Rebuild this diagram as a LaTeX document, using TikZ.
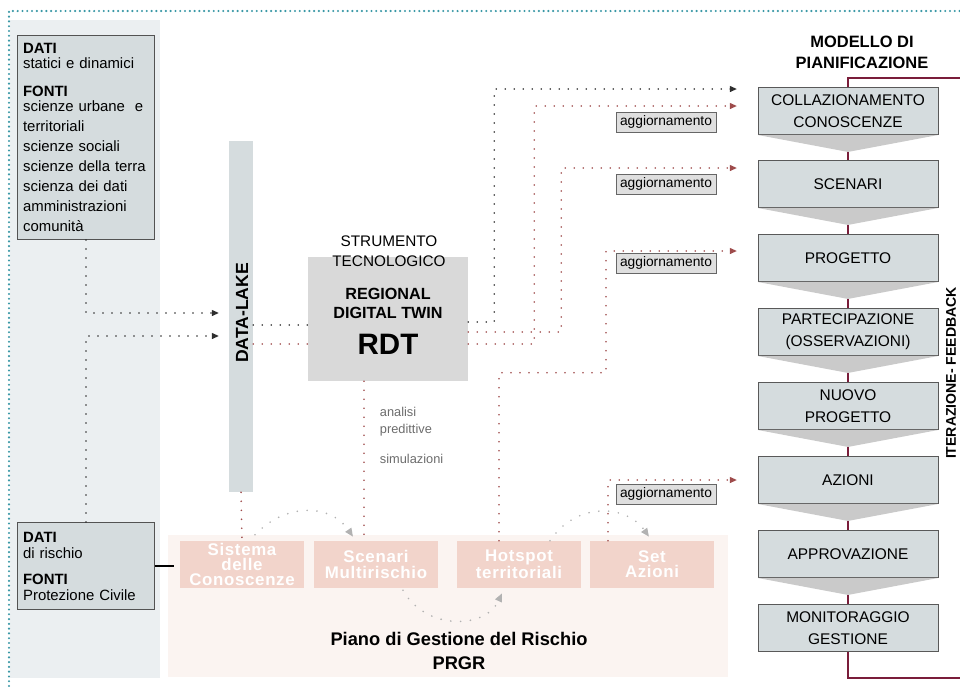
\documentclass[tikz,border=0pt]{standalone}
\usepackage{fontspec}
\setmainfont{Liberation Sans}
\usetikzlibrary{positioning,calc,arrows.meta,backgrounds}
\definecolor{rg-teal}{HTML}{3A98A6}
\definecolor{rg-panel}{HTML}{EBEFF1}
\definecolor{rg-box}{HTML}{D5DCDE}
\definecolor{rg-rdt}{HTML}{D9D9D9}
\definecolor{rg-area}{HTML}{FBF4F1}
\definecolor{rg-pink}{HTML}{F2D4CB}
\definecolor{rg-red}{HTML}{9E4B4B}
\definecolor{rg-maroon}{HTML}{7A1D3A}
\definecolor{rg-chev}{HTML}{CACACA}
\definecolor{rg-dark}{HTML}{2E2E2E}

\begin{document}
\begin{tikzpicture}[
    x=0.025cm, y=-0.025cm,
    infobox/.style={draw=gray!65!black, fill=rg-box, line width=0.7pt,
                    anchor=north west, align=left, inner xsep=0.14cm,
                    text width=3.145cm, minimum width=3.425cm,
                    font=\fontsize{10.6}{14.2}\selectfont},
    phase/.style={draw=gray!70!black, fill=rg-box, line width=0.6pt,
                  minimum width=4.5cm, minimum height=1.175cm,
                  align=center, font=\fontsize{11}{15.5}\selectfont},
    riskbox/.style={fill=rg-pink, text=white, minimum width=3.1cm,
                    minimum height=1.175cm, align=center, inner sep=0pt,
                    font=\bfseries\fontsize{12}{10.8}\selectfont\addfontfeature{LetterSpace=4}},
    upd/.style={draw=gray!80!black, fill=gray!25, inner sep=1pt,
                minimum width=2.5cm, minimum height=0.5cm,
                font=\fontsize{9.8}{11}\selectfont},
    heading/.style={font=\bfseries\fontsize{11.7}{15}\selectfont, align=center},
    dotk/.style={draw=rg-dark, line width=1.3pt, line cap=round,
                 dash pattern=on 0pt off 6.4pt},
    dotr/.style={dotk, draw=rg-red},
    arrowend/.style={-{Triangle[length=5pt,width=4pt]}},
    loopflow/.style={draw=gray!60, line width=1.3pt, line cap=round,
                     dash pattern=on 0pt off 7pt,
                     -{Triangle[length=6pt,width=5pt]}},
    feedback/.style={draw=rg-maroon, line width=1.9pt}
]
\useasboundingbox (0,0) rectangle (960,686);

% =========================================================================
% SFONDI
% =========================================================================
\fill[rg-panel] (10,20) rectangle (160,678);
\node[fill=rg-area, minimum width=14cm, minimum height=3.55cm,
      anchor=north west, inner sep=0pt] (prgr) at (168,535) {};
\draw[rg-teal, line width=1.7pt, line cap=round, dash pattern=on 0pt off 3.4pt]
    (9,686) -- (9,11) -- (960,11);

% =========================================================================
% FONTI DEI DATI
% =========================================================================
\node[infobox, minimum height=5.1cm] (dati) at (17,35)
    {\textbf{DATI}\\[-4pt] statici e dinamici\\[6pt]
     \textbf{FONTI}\\[-3.5pt] scienze urbane~ e\\ territoriali\\ scienze sociali\\
     scienze della terra\\ scienza dei dati\\ amministrazioni\\ comunità};
\node[infobox, minimum height=2.175cm] (rischio) at (17,522)
    {\textbf{DATI}\\[-2.8pt] di rischio\\[4.3pt]
     \textbf{FONTI}\\[-2.8pt] Protezione Civile};

% =========================================================================
% DATA-LAKE E RDT
% =========================================================================
\node[fill=rg-box, minimum width=0.6cm, minimum height=8.775cm, inner sep=0pt] (lake) at (241,316.5) {};
\node[rotate=90, font=\bfseries\fontsize{12.5}{14}\selectfont] (lakelabel) at (242,313) {DATA-LAKE};

\node[fill=rg-rdt, minimum width=4cm, minimum height=3.1cm, inner sep=0pt] (rdt) at (388,319) {};
\node[align=center, font=\fontsize{10.9}{14.2}\selectfont] (strum) at (389,251) {STRUMENTO\\TECNOLOGICO};
\node[align=center, font=\bfseries\fontsize{11.5}{13.5}\selectfont] (rdtname) at (388,303) {REGIONAL\\DIGITAL TWIN};
\node[font=\bfseries\fontsize{21}{24}\selectfont] (rdtacro) at (388,344) {RDT};

\node[anchor=west, align=left, text=gray!85!black, font=\fontsize{9.1}{12}\selectfont] (analisi) at (375,422) {analisi\\predittive};
\node[anchor=west, text=gray!85!black, font=\fontsize{9.1}{12}\selectfont] (simul) at (375,459) {simulazioni};

% =========================================================================
% MODELLO DI PIANIFICAZIONE
% =========================================================================
\node[heading] (modello) at (862,52) {MODELLO DI\\PIANIFICAZIONE};

\node[phase] (colla)  at (848,111) {COLLAZIONAMENTO\\CONOSCENZE};
\node[phase] (scen)   at (848,184) {SCENARI};
\node[phase] (prog)   at (848,258) {PROGETTO};
\node[phase] (part)   at (848,332) {PARTECIPAZIONE\\(OSSERVAZIONI)};
\node[phase] (nuovo)  at (848,406) {NUOVO\\PROGETTO};
\node[phase] (azioni) at (848,480) {AZIONI};
\node[phase] (appr)   at (848,554) {APPROVAZIONE};
\node[phase] (moni)   at (848,628) {MONITORAGGIO\\GESTIONE};

\foreach \p in {colla,scen,prog,part,nuovo,azioni,appr}
    \fill[rg-chev] (\p.south west) -- (\p.south east) -- ($(\p.south)+(0,17)$) -- cycle;

\coordinate (fbtop) at (960,78);
\coordinate (fbbot) at (960,678);
\begin{scope}[on background layer]
\draw[feedback] (fbtop) -| (colla.north) -- (moni.south) |- (fbbot);
\end{scope}

\node[rotate=90, font=\bfseries\fontsize{10}{12}\selectfont] (iter) at (951,373) {ITERAZIONE- FEEDBACK};

% =========================================================================
% PIANO DI GESTIONE DEL RISCHIO
% =========================================================================
\node[riskbox] (sis)  at (242,564.5) {Sistema\\delle\\Conoscenze};
\node[riskbox] (mult) at (376,564.5) {Scenari\\Multirischio};
\node[riskbox] (hot)  at (519,564.5) {Hotspot\\territoriali};
\node[riskbox] (set)  at (652,564.5) {Set\\Azioni};

\node[font=\bfseries\fontsize{13}{17}\selectfont, align=center] (prgrtitle) at (459,651)
    {Piano di Gestione del Rischio\\PRGR};

% =========================================================================
% AGGIORNAMENTI
% =========================================================================
\node[upd] (upd1) at (666,122) {aggiornamento};
\node[upd] (upd2) at (666,184) {aggiornamento};
\node[upd] (upd3) at (666,263) {aggiornamento};
\node[upd] (upd4) at (666,494) {aggiornamento};

\coordinate (lakein1)  at (219,313);
\coordinate (lakein2)  at (219,336);
\coordinate (collain1) at (737,89);
\coordinate (collain2) at (737,106);
\coordinate (scenin)   at (737,168);
\coordinate (progin)   at (737,251);
\coordinate (azin)     at (737,480);

% connessioni
\draw[dotk, arrowend] (dati.south) |- (lakein1);
\draw[dotk, arrowend] (rischio.north) |- (lakein2);
\draw[dotk] (lake.east |- 0,325) -- (rdt.west |- 0,325);
\draw[dotr] (lake.east |- 0,344) -- (rdt.west |- 0,344);

\draw[dotk, arrowend] (rdt.east |- 0,322) -- ++(26,0) |- (collain1);
\draw[dotr, arrowend] (rdt.east |- 0,344) -- ++(66,0) |- (collain2);
\draw[dotr, arrowend] (rdt.east |- 0,332) -- ++(93,0) |- (scenin);
\draw[dotr, arrowend] ($(hot.north)+(-20,0)$) -- ++(0,-168) -- ++(107,0) |- (progin);
\draw[dotr, arrowend] ($(set.north)+(-44,0)$) |- (azin);

\draw[dotr] (rdt.south -| 364,0) -- (mult.north -| 364,0);
\draw[dotr] (lake.south) -- (sis.north);
\draw[black, line width=0.9pt] (rischio.east) -- ++(19,0);

% cicli del PRGR
\draw[loopflow] ($(sis.north)+(13,-6)$) .. controls (285,503) and (330,503) .. ($(mult.north)+(-23,-4)$);
\draw[loopflow] ($(mult.south)+(27,2)$) .. controls (425,630) and (485,630) .. ($(hot.south)+(-17,5)$);
\draw[loopflow] ($(hot.north)+(31,0)$) .. controls (575,503) and (625,503) .. ($(set.north)+(-3,-4)$);

\end{tikzpicture}
\end{document}
